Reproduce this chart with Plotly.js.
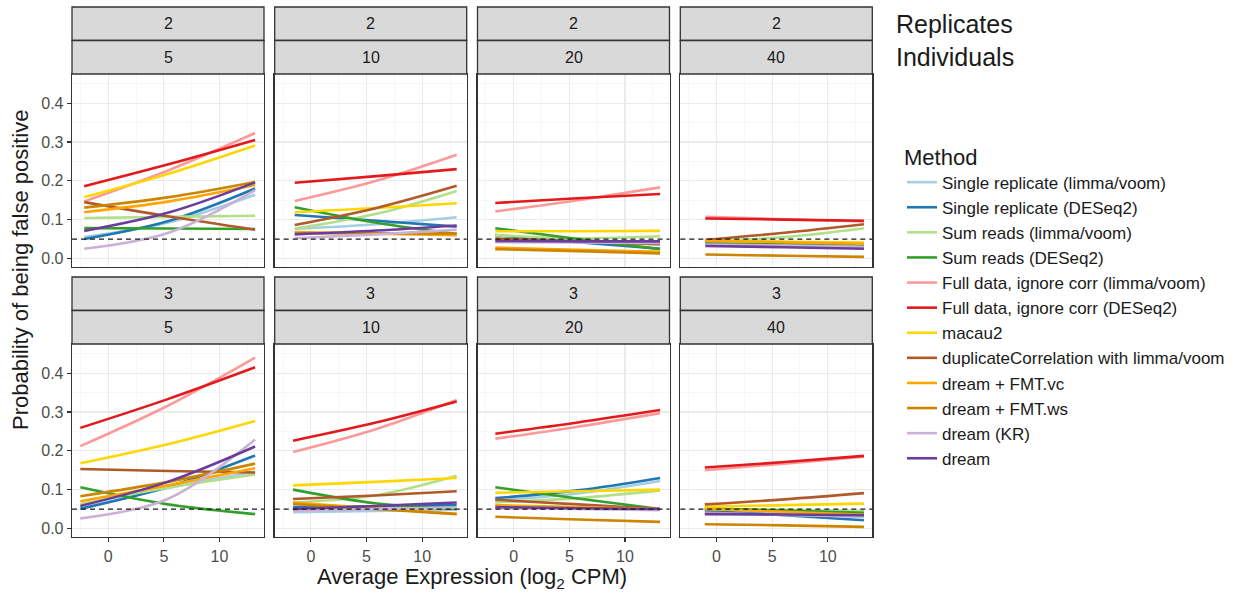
<!DOCTYPE html>
<html>
<head>
<meta charset="utf-8">
<script src="https://cdn.plot.ly/plotly-3.0.1.min.js"></script>
<style>
  html, body { margin: 0; padding: 0; background: #ffffff; }
  #chart { width: 1239px; height: 594px; }
</style>
</head>
<body>
<div id="chart"></div>
<script>
// ---- data -------------------------------------------------------------
const methods = [
  'Single replicate (limma/voom)',
  'Single replicate (DESeq2)',
  'Sum reads (limma/voom)',
  'Sum reads (DESeq2)',
  'Full data, ignore corr (limma/voom)',
  'Full data, ignore corr (DESeq2)',
  'macau2',
  'duplicateCorrelation with limma/voom',
  'dream + FMT.vc',
  'dream + FMT.ws',
  'dream (KR)',
  'dream'
];
const replicates = ['2', '3'];
const individuals = ['5', '10', '20', '40'];
const xTicks = [0, 5, 10];
const yTicks = [0, 0.1, 0.2, 0.3, 0.4];
const targetRate = 0.05;

// Average expression (log2 CPM) where each fitted curve is sampled
const expr_r2_i5  = [-2.15, 5.5, 13.2];
const expr_r2_i10 = [-1.45, 5.9, 13.1];
const expr_r2_i20 = [-1.65, 5.75, 13.15];
const expr_r2_i40 = [-1.0, 6.1, 13.25];
const expr_r3_i5  = [-2.5, 5.35, 13.2];
const expr_r3_i10 = [-1.6, 5.75, 13.1];
const expr_r3_i20 = [-1.65, 5.75, 13.15];
const expr_r3_i40 = [-1.05, 6.1, 13.25];

// Probability of being a false positive, one row per method (same order as methods)
const fp_r2_i5 = [
  [0.055, 0.093, 0.164], [0.050, 0.097, 0.180], [0.104, 0.107, 0.110], [0.078, 0.077, 0.076],
  [0.147, 0.228, 0.323], [0.186, 0.243, 0.305], [0.158, 0.219, 0.291], [0.145, 0.108, 0.074],
  [0.119, 0.147, 0.189], [0.131, 0.158, 0.197], [0.025, 0.067, 0.176], [0.071, 0.119, 0.196]
];
const fp_r2_i10 = [
  [0.076, 0.088, 0.106], [0.112, 0.097, 0.082], [0.077, 0.115, 0.174], [0.132, 0.092, 0.063],
  [0.148, 0.200, 0.267], [0.195, 0.212, 0.230], [0.119, 0.130, 0.142], [0.086, 0.130, 0.187],
  [0.068, 0.064, 0.060], [0.065, 0.065, 0.064], [0.052, 0.062, 0.074], [0.062, 0.072, 0.085]
];
const fp_r2_i20 = [
  [0.050, 0.043, 0.036], [0.060, 0.042, 0.025], [0.060, 0.052, 0.057], [0.078, 0.050, 0.024],
  [0.121, 0.150, 0.183], [0.143, 0.155, 0.166], [0.070, 0.070, 0.071], [0.051, 0.044, 0.037],
  [0.028, 0.022, 0.017], [0.024, 0.019, 0.013], [0.042, 0.041, 0.040], [0.045, 0.044, 0.044]
];
const fp_r2_i40 = [
  [0.040, 0.035, 0.030], [0.040, 0.034, 0.028], [0.045, 0.055, 0.078], [0.043, 0.038, 0.033],
  [0.107, 0.101, 0.095], [0.103, 0.100, 0.097], [0.046, 0.043, 0.041], [0.048, 0.066, 0.088],
  [0.045, 0.042, 0.038], [0.010, 0.007, 0.004], [0.036, 0.033, 0.030], [0.032, 0.029, 0.025]
];
const fp_r3_i5 = [
  [0.050, 0.104, 0.146], [0.051, 0.107, 0.188], [0.063, 0.105, 0.139], [0.106, 0.062, 0.037],
  [0.212, 0.316, 0.440], [0.259, 0.333, 0.415], [0.168, 0.217, 0.277], [0.153, 0.148, 0.144],
  [0.070, 0.111, 0.155], [0.083, 0.120, 0.167], [0.026, 0.076, 0.229], [0.058, 0.120, 0.211]
];
const fp_r3_i10 = [
  [0.042, 0.045, 0.048], [0.055, 0.057, 0.060], [0.067, 0.085, 0.136], [0.100, 0.065, 0.050],
  [0.197, 0.255, 0.331], [0.226, 0.272, 0.327], [0.111, 0.120, 0.130], [0.076, 0.085, 0.096],
  [0.067, 0.052, 0.038], [0.063, 0.050, 0.037], [0.045, 0.050, 0.054], [0.050, 0.058, 0.067]
];
const fp_r3_i20 = [
  [0.072, 0.090, 0.122], [0.078, 0.098, 0.130], [0.067, 0.078, 0.098], [0.106, 0.077, 0.050],
  [0.231, 0.262, 0.297], [0.244, 0.273, 0.305], [0.092, 0.096, 0.100], [0.074, 0.062, 0.050],
  [0.060, 0.055, 0.050], [0.030, 0.023, 0.017], [0.052, 0.050, 0.047], [0.055, 0.052, 0.050]
];
const fp_r3_i40 = [
  [0.048, 0.040, 0.030], [0.045, 0.034, 0.021], [0.050, 0.048, 0.045], [0.052, 0.046, 0.040],
  [0.150, 0.167, 0.185], [0.157, 0.171, 0.187], [0.056, 0.060, 0.064], [0.062, 0.075, 0.091],
  [0.050, 0.043, 0.035], [0.011, 0.008, 0.004], [0.040, 0.035, 0.030], [0.037, 0.036, 0.034]
];

// ---- styling ----------------------------------------------------------
const methodColors = [
  '#A6CEE3', '#1F78B4', '#B2DF8A', '#33A02C', '#FB9A99', '#E31A1C',
  '#FFD700', '#B15928', '#FFA500', '#CD8500', '#CAB2D6', '#6A3D9A'
];

const panels = [
  { row: 0, col: 0, x: expr_r2_i5,  y: fp_r2_i5 },
  { row: 0, col: 1, x: expr_r2_i10, y: fp_r2_i10 },
  { row: 0, col: 2, x: expr_r2_i20, y: fp_r2_i20 },
  { row: 0, col: 3, x: expr_r2_i40, y: fp_r2_i40 },
  { row: 1, col: 0, x: expr_r3_i5,  y: fp_r3_i5 },
  { row: 1, col: 1, x: expr_r3_i10, y: fp_r3_i10 },
  { row: 1, col: 2, x: expr_r3_i20, y: fp_r3_i20 },
  { row: 1, col: 3, x: expr_r3_i40, y: fp_r3_i40 }
];

const W = 1239, H = 594;
const FONT = 'Liberation Sans, Arial, Helvetica, sans-serif';
const colLeft = [72, 274.7, 477.5, 680.3];
const colW = 192;
const rowTop = [74, 344];
const rowH = 193;
const stripTop = [7, 277];
const stripH = 33.5;

const px = v => v / W;
const py = v => 1 - v / H;

const traces = [];
const layout = {
  width: W, height: H,
  margin: { l: 0, r: 0, t: 0, b: 0 },
  paper_bgcolor: '#ffffff',
  plot_bgcolor: '#ffffff',
  font: { family: FONT, color: '#1A1A1A' },
  showlegend: true,
  legend: {
    x: px(902), xanchor: 'left',
    y: py(136), yanchor: 'top',
    bgcolor: 'rgba(0,0,0,0)',
    borderwidth: 0,
    font: { size: 17, color: '#1A1A1A', family: FONT },
    title: { text: 'Method', font: { size: 22, color: '#1A1A1A', family: FONT } },
    traceorder: 'normal',
    itemwidth: 30
  },
  shapes: [],
  annotations: []
};

panels.forEach((p, i) => {
  const k = i + 1;
  const sx = k === 1 ? '' : String(k);
  const xId = 'x' + sx, yId = 'y' + sx;
  const left = colLeft[p.col], top = rowTop[p.row];

  layout['xaxis' + sx] = {
    domain: [px(left), px(left + colW)],
    anchor: yId,
    range: [-3.25, 14.0],
    tickmode: 'array', tickvals: xTicks,
    showticklabels: p.row === 1,
    ticks: p.row === 1 ? 'outside' : '',
    ticklen: 4, tickwidth: 1.1, tickcolor: '#333333',
    tickfont: { size: 16, color: '#4D4D4D', family: FONT },
    showgrid: true, gridcolor: '#EBEBEB', gridwidth: 1.2,
    minor: { tickmode: 'linear', tick0: 0, dtick: 2.5, showgrid: true, gridcolor: '#F3F3F3', gridwidth: 0.7, ticks: '' },
    zeroline: false,
    showline: true, mirror: true, linecolor: '#333333', linewidth: 1.3,
    fixedrange: true
  };
  layout['yaxis' + sx] = {
    domain: [py(top + rowH), py(top)],
    anchor: xId,
    range: [-0.022, 0.475],
    tickmode: 'array', tickvals: yTicks, tickformat: '.1f',
    showticklabels: p.col === 0,
    ticks: p.col === 0 ? 'outside' : '',
    ticklen: 4, tickwidth: 1.1, tickcolor: '#333333',
    tickfont: { size: 16, color: '#4D4D4D', family: FONT },
    showgrid: true, gridcolor: '#EBEBEB', gridwidth: 1.2,
    minor: { tickmode: 'linear', tick0: 0.05, dtick: 0.1, showgrid: true, gridcolor: '#F3F3F3', gridwidth: 0.7, ticks: '' },
    zeroline: false,
    showline: true, mirror: true, linecolor: '#333333', linewidth: 1.3,
    fixedrange: true
  };

  methods.forEach((m, j) => {
    traces.push({
      type: 'scatter', mode: 'lines',
      x: p.x, y: p.y[j],
      xaxis: xId, yaxis: yId,
      name: m, legendgroup: m,
      showlegend: i === 0,
      line: { color: methodColors[j], width: 2.6, shape: 'spline', smoothing: 1 },
      hoverinfo: 'name+y'
    });
  });

  // reference level for the nominal false-positive rate
  layout.shapes.push({
    type: 'line', xref: xId + ' domain', yref: yId,
    x0: 0, x1: 1, y0: targetRate, y1: targetRate,
    line: { color: '#1A1A1A', width: 1.3, dash: '5px,4px' },
    layer: 'above'
  });

  // facet strips: replicates on top, individuals below
  const sTop = stripTop[p.row];
  [replicates[p.row], individuals[p.col]].forEach((label, s) => {
    const y0 = sTop + s * stripH;
    layout.shapes.push({
      type: 'rect', xref: 'paper', yref: 'paper',
      x0: px(left), x1: px(left + colW), y0: py(y0 + stripH), y1: py(y0),
      fillcolor: '#D9D9D9', line: { color: '#333333', width: 1.3 }
    });
    layout.annotations.push({
      xref: 'paper', yref: 'paper',
      x: px(left + colW / 2), y: py(y0 + stripH / 2),
      xanchor: 'center', yanchor: 'middle',
      text: label, showarrow: false,
      font: { size: 16, color: '#1A1A1A', family: FONT }
    });
  });
});

// facet variable names on the right
layout.annotations.push(
  { xref: 'paper', yref: 'paper', x: px(894), y: py(stripTop[0] + stripH / 2),
    xanchor: 'left', yanchor: 'middle', text: 'Replicates', showarrow: false,
    font: { size: 25, color: '#1A1A1A', family: FONT } },
  { xref: 'paper', yref: 'paper', x: px(894), y: py(stripTop[0] + stripH * 1.5),
    xanchor: 'left', yanchor: 'middle', text: 'Individuals', showarrow: false,
    font: { size: 25, color: '#1A1A1A', family: FONT } }
);

// shared axis titles
layout.annotations.push(
  { xref: 'paper', yref: 'paper', x: px((colLeft[0] + colLeft[3] + colW) / 2), y: py(578),
    xanchor: 'center', yanchor: 'middle',
    text: 'Average Expression (log<sub>2</sub> CPM)', showarrow: false,
    font: { size: 22, color: '#1A1A1A', family: FONT } },
  { xref: 'paper', yref: 'paper', x: px(20), y: py(270),
    xanchor: 'center', yanchor: 'middle', textangle: -90,
    text: 'Probability of being false positive', showarrow: false,
    font: { size: 22, color: '#1A1A1A', family: FONT } }
);

Plotly.newPlot('chart', traces, layout, { displayModeBar: false, staticPlot: true });
</script>
</body>
</html>
